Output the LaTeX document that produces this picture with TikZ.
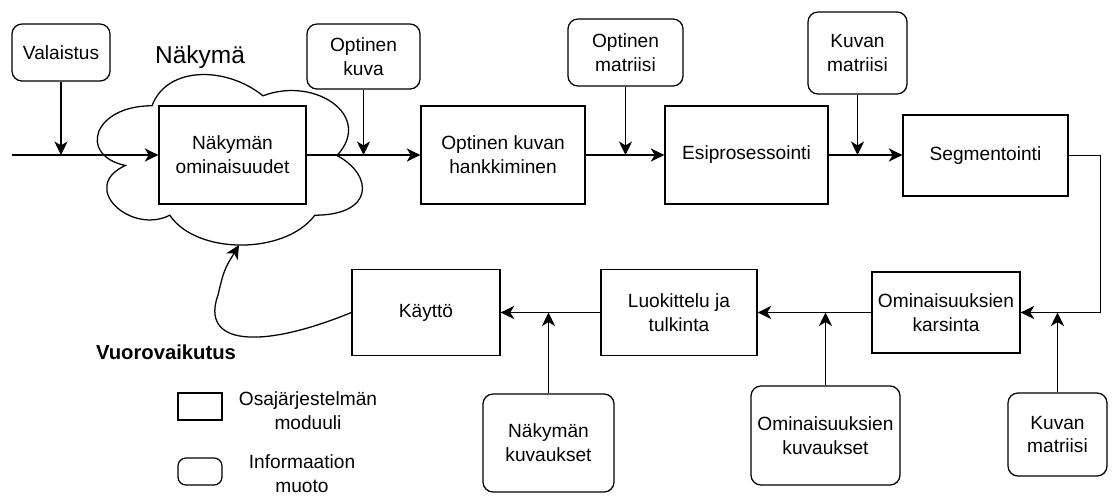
\documentclass[tikz,border=0pt]{standalone}
\usepackage{fontspec}
\setmainfont{Liberation Sans}
\usetikzlibrary{arrows.meta}

\begin{document}
\begin{tikzpicture}[x=0.025cm,y=-0.025cm,
    modul/.style={draw,line width=0.9pt,fill=white,align=center,inner sep=1pt},
    info/.style={modul,rounded corners=0.25cm},
    arr/.style={-{Stealth[length=3.4mm,width=3.3mm,inset=1mm]},line width=0.9pt},
    every node/.style={font=\fontsize{13.6}{17}\selectfont}]
        \useasboundingbox (0,0) rectangle (1112,496);
        % scene cloud
        \draw[line width=0.9pt] (152,105.75) .. controls (92.8,105.75) and (78,155.5) .. (125.36,165.45)
            .. controls (78,187.34) and (131.28,235.1) .. (169.76,215.2)
            .. controls (196.4,255) and (285.2,255) .. (314.8,215.2)
            .. controls (374,215.2) and (374,175.4) .. (337,155.5)
            .. controls (374,115.7) and (314.8,75.9) .. (263,95.8)
            .. controls (226,65.95) and (166.8,65.95) .. (152,105.75) -- cycle;
        \node[font=\fontsize{17.4}{20}\selectfont] (nakyma) at (200,57) {Näkymä};
        \coordinate (pilvi) at (239,245);
        % upper row
        \coordinate (alku) at (12,155);
        \node[modul,minimum width=3.675cm,minimum height=2.45cm] (ominaisuudet) at (232.5,155) {Näkymän\\ominaisuudet};
        \node[modul,minimum width=4.1cm,minimum height=2.45cm] (hankkiminen) at (503,155) {Optinen kuvan\\hankkiminen};
        \node[modul,minimum width=4.075cm,minimum height=2.45cm] (esiprosessointi) at (746.5,155) {Esiprosessointi};
        \node[modul,minimum width=4.125cm,minimum height=2.025cm] (segmentointi) at (985.5,155.5) {Segmentointi};
        % information above
        \node[info,minimum width=2.45cm,minimum height=1.425cm] (valaistus) at (61,52.5) {Valaistus};
        \node[info,minimum width=2.825cm,minimum height=1.625cm] (optkuva) at (363.5,56.5) {Optinen\\kuva};
        \node[info,minimum width=2.875cm,minimum height=1.675cm] (optmatriisi) at (625.5,52.5) {Optinen\\matriisi};
        \node[info,minimum width=2.475cm,minimum height=2.05cm] (kuvmatriisi) at (857.5,53) {Kuvan\\matriisi};
        % lower row
        \node[modul,minimum width=3.7cm,minimum height=2.025cm] (karsinta) at (946,312.5) {Ominaisuuksien\\karsinta};
        \node[modul,minimum width=3.9cm,minimum height=2.15cm] (luokittelu) at (679,312.5) {Luokittelu ja\\tulkinta};
        \node[modul,minimum width=3.7cm,minimum height=2.15cm] (kaytto) at (426,312.5) {Käyttö};
        % information below
        \node[info,minimum width=2.475cm,minimum height=2.075cm] (kuvmatriisi2) at (1057.5,434.5) {Kuvan\\matriisi};
        \node[info,minimum width=3.725cm,minimum height=2.475cm] (omkuvaukset) at (825.5,435.5) {Ominaisuuksien\\kuvaukset};
        \node[info,minimum width=3.275cm,minimum height=2.45cm] (nakkuvaukset) at (548.5,443) {Näkymän\\kuvaukset};
        \node[font=\fontsize{14.4}{17}\selectfont\bfseries] (vuoro) at (166,352) {Vuorovaikutus};
        % legend
        \node[modul,minimum width=1.1cm,minimum height=0.675cm] (selite1) at (200,406.5) {};
        \node[align=center] (selite1txt) at (308,411) {Osajärjestelmän\\moduuli};
        \node[info,rounded corners=0.2cm,minimum width=1.1cm,minimum height=0.675cm] (selite2) at (200,471.5) {};
        \node[align=center] (selite2txt) at (302,474) {Informaation\\muoto};
        % connectors
        \draw[arr] (alku) -- (ominaisuudet);
        \draw[arr] (valaistus) -- (valaistus |- ominaisuudet.west);
        \draw[arr] (ominaisuudet) -- (hankkiminen);
        \draw[arr] (optkuva) -- (optkuva |- ominaisuudet.east);
        \draw[arr] (hankkiminen) -- (esiprosessointi);
        \draw[arr] (optmatriisi) -- (optmatriisi |- hankkiminen.east);
        \draw[arr] (esiprosessointi) -- (segmentointi.west |- esiprosessointi.east);
        \draw[arr] (kuvmatriisi) -- (kuvmatriisi |- esiprosessointi.east);
        \draw[arr] (segmentointi.east) -- ++(32,0) |- (karsinta.east);
        \draw[arr] (kuvmatriisi2) -- (kuvmatriisi2 |- karsinta.east);
        \draw[arr] (karsinta) -- (luokittelu);
        \draw[arr] (omkuvaukset) -- (omkuvaukset |- karsinta.west);
        \draw[arr] (luokittelu) -- (kaytto);
        \draw[arr] (nakkuvaukset) -- (nakkuvaukset |- luokittelu.west);
        \draw[arr] (kaytto.west) .. controls (260,350) and (200,345) .. (218,295) .. controls (224,270) .. (pilvi);
    \end{tikzpicture}
\end{document}
